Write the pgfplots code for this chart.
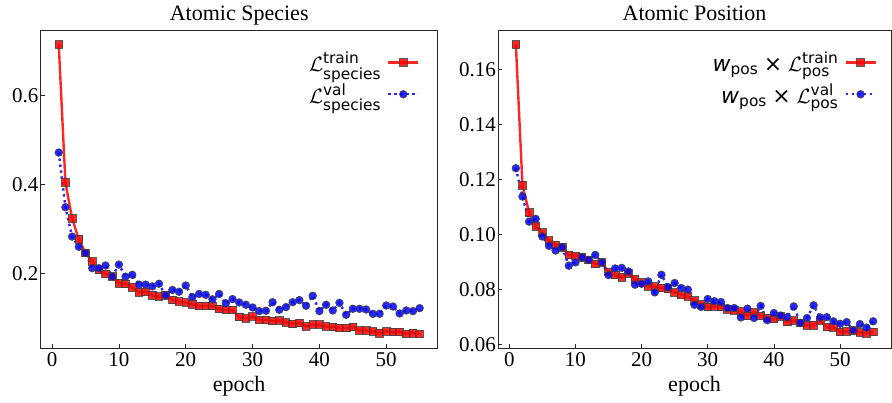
\documentclass[border=0pt]{standalone}
\usepackage{fontspec}
\setmainfont{Liberation Serif}
\newfontfamily\dv{DejaVu Sans}
\usepackage{amsmath}
\usepackage{pgfplots}
\pgfplotsset{compat=1.18}

\pgfplotstableread{
e v
1 0.715
2 0.4045
3 0.324
4 0.277
5 0.246
6 0.227
7 0.208
8 0.199
9 0.193
10 0.178
11 0.177
12 0.169
13 0.158
14 0.159
15 0.151
16 0.148
17 0.151
18 0.141
19 0.137
20 0.135
21 0.131
22 0.127
23 0.127
24 0.127
25 0.120
26 0.118
27 0.118
28 0.102
29 0.099
30 0.103
31 0.096
32 0.096
33 0.093
34 0.094
35 0.090
36 0.087
37 0.0885
38 0.081
39 0.085
40 0.085
41 0.081
42 0.0795
43 0.078
44 0.078
45 0.0795
46 0.072
47 0.072
48 0.0697
49 0.066
50 0.0697
51 0.0683
52 0.069
53 0.0645
54 0.066
55 0.0645
}\spectrain

\pgfplotstableread{
e v
1 0.472
2 0.349
3 0.283
4 0.260
5 0.246
6 0.212
7 0.212
8 0.218
9 0.193
10 0.220
11 0.193
12 0.197
13 0.175
14 0.175
15 0.171
16 0.177
17 0.151
18 0.163
19 0.159
20 0.173
21 0.147
22 0.154
23 0.152
24 0.142
25 0.154
26 0.133
27 0.1424
28 0.1348
29 0.1297
30 0.1236
31 0.1155
32 0.1162
33 0.1355
34 0.1184
35 0.1245
36 0.1355
37 0.1402
38 0.1274
39 0.1499
40 0.1155
41 0.1297
42 0.1169
43 0.1340
44 0.1072
45 0.1207
46 0.1207
47 0.1191
48 0.1094
49 0.1094
50 0.1281
51 0.1258
52 0.1101
53 0.1169
54 0.1155
55 0.1221
}\specval

\pgfplotstableread{
e v
1 0.169
2 0.1179
3 0.108
4 0.1029
5 0.1007
6 0.0978
7 0.0963
8 0.0954
9 0.0926
10 0.0923
11 0.0918
12 0.0908
13 0.0893
14 0.0899
15 0.0864
16 0.0854
17 0.0845
18 0.0860
19 0.0838
20 0.0826
21 0.0812
22 0.0812
23 0.0806
24 0.0802
25 0.0790
26 0.0781
27 0.0775
28 0.0761
29 0.0746
30 0.0737
31 0.0739
32 0.0737
33 0.0729
34 0.0725
35 0.0720
36 0.0705
37 0.0717
38 0.0705
39 0.0698
40 0.0693
41 0.0703
42 0.0683
43 0.0688
44 0.0679
45 0.0671
46 0.0671
47 0.0688
48 0.0664
49 0.0662
50 0.0647
51 0.0648
52 0.0652
53 0.0645
54 0.0640
55 0.0646
}\postrain

\pgfplotstableread{
e v
1 0.1241
2 0.1138
3 0.1047
4 0.1057
5 0.0993
6 0.0959
7 0.0942
8 0.0954
9 0.0887
10 0.0899
11 0.0917
12 0.0908
13 0.0926
14 0.0899
15 0.0853
16 0.0877
17 0.0879
18 0.0866
19 0.0818
20 0.0821
21 0.0830
22 0.0790
23 0.0854
24 0.0809
25 0.0824
26 0.0806
27 0.0800
28 0.0745
29 0.0737
30 0.0766
31 0.0758
32 0.0755
33 0.0733
34 0.0733
35 0.0699
36 0.0731
37 0.0697
38 0.0741
39 0.0689
40 0.0715
41 0.0706
42 0.0700
43 0.0739
44 0.0679
45 0.0697
46 0.0743
47 0.0699
48 0.0700
49 0.0685
50 0.0676
51 0.0682
52 0.0652
53 0.0675
54 0.0662
55 0.0685
}\posval

\pgfplotsset{
  myaxis/.style={
    scale only axis,
    height=318pt,
    axis line style={black!85, line width=0.8pt},
    tick align=inside,
    tick pos=left,
    major tick length=4pt,
    tick style={black!85, line width=0.7pt},
    font=\fontsize{21}{25}\selectfont,
    /pgf/number format/assume math mode=true,
    ticklabel style={font=\fontsize{21}{25}\selectfont, inner sep=2pt},
    xticklabel style={yshift=-2pt},
    xmin=-1.7, xmax=57.7,
    xtick={0,10,20,30,40,50},
    title style={font=\fontsize{22}{26}\selectfont, at={(0.5,1)}, anchor=base, yshift=4pt},
    xlabel={epoch},
    xlabel style={font=\fontsize{22}{26}\selectfont, at={(0.5,0)}, anchor=base, yshift=-43pt},
    legend style={draw=none, fill=none, font=\fontsize{22}{26}\selectfont,
      at={(1,1)}, anchor=north east,
      row sep=7pt, column sep=4pt, inner sep=0pt},
    legend cell align=right,
    legend plot pos=right,
    legend image code/.code={%
      \draw[##1] (0pt,0pt) -- (30pt,0pt);
      \draw[##1, mark repeat=1, only marks] plot coordinates {(15pt,0pt)};},
  },
  trainstyle/.style={red, opacity=0.85, line width=2.4pt, solid,
    mark=square*, mark size=3.8pt,
    mark options={solid, fill=red, draw=black!75, line width=0.8pt}},
  valstyle/.style={blue, opacity=0.85, line width=2.4pt, dash pattern=on 2.4pt off 3.6pt,
    mark=*, mark size=3.8pt,
    mark options={solid, fill=blue, draw=black!75, line width=0.8pt}},
}

\begin{document}
\begin{tikzpicture}
\useasboundingbox (-40.7pt,-54pt) rectangle (851.3pt,348pt);
\begin{axis}[myaxis,
  at={(0pt,0pt)}, anchor=south west,
  width=397pt,
  ymin=0.0325, ymax=0.7475,
  ytick={0.2,0.4,0.6},
  yticklabel style={/pgf/number format/fixed, /pgf/number format/precision=1},
  title={Atomic Species},
  legend style={xshift=-18pt, yshift=-20pt},
]
\addplot[trainstyle] table[x=e,y=v] {\spectrain};
\addlegendentry{$\mathcal{L}^{\text{\dv train}}_{\text{\dv species}}$}
\addplot[valstyle] table[x=e,y=v] {\specval};
\addlegendentry{$\mathcal{L}^{\text{\dv val}}_{\text{\dv species}}$}
\end{axis}

\begin{axis}[myaxis,
  at={(457.3pt,0pt)}, anchor=south west,
  width=393pt,
  ymin=0.0588, ymax=0.1743,
  ytick={0.06,0.08,0.10,0.12,0.14,0.16},
  yticklabel style={/pgf/number format/fixed, /pgf/number format/fixed zerofill, /pgf/number format/precision=2},
  title={Atomic Position},
  legend style={xshift=-14pt, yshift=-20pt},
]
\addplot[trainstyle] table[x=e,y=v] {\postrain};
\addlegendentry{{\dv\itshape w}$_{\text{\dv pos}}$ {\dv ×} $\mathcal{L}^{\text{\dv train}}_{\text{\dv pos}}$}
\addplot[valstyle] table[x=e,y=v] {\posval};
\addlegendentry{{\dv\itshape w}$_{\text{\dv pos}}$ {\dv ×} $\mathcal{L}^{\text{\dv val}}_{\text{\dv pos}}$}
\end{axis}
\end{tikzpicture}
\end{document}
